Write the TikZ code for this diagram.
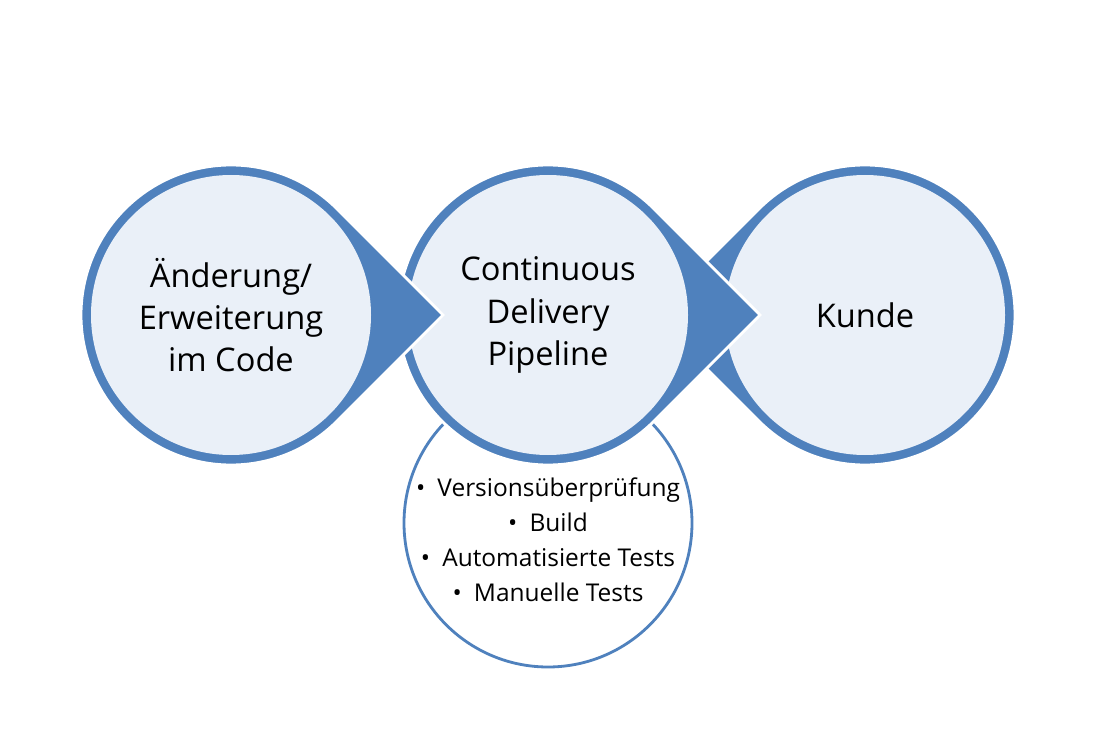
\documentclass[tikz,border=0pt]{standalone}
\usepackage{fontspec}
\setmainfont{Open Sans}
\usepackage{tikz}
\usetikzlibrary{positioning}
\usetikzlibrary{calc}
\definecolor{rand}{HTML}{4F81BD}
\definecolor{innen}{HTML}{EAF0F8}
\tikzstyle{kreis}=[circle,fill=innen,minimum size=7cm,inner sep=0pt,align=center,font=\fontsize{23.2}{30}\selectfont]
\tikzstyle{tropfen}=[fill=rand,draw=white,line width=2pt,line join=miter]
\tikzstyle{liste}=[circle,draw=rand,line width=2pt,fill=white,minimum size=7.2cm,inner sep=0pt]
\tikzstyle{punkte}=[align=center,font=\fontsize{17.4}{25}\selectfont]
\newcommand{\pkt}{•\enspace}
% Tropfen mit Spitze in Richtung #3, dann der helle Kreis darauf
\newcommand{\stufe}[4]{%
  \filldraw[tropfen] ($(#1)+(#3:5.3)$) -- ($(#1)+(#3+45:3.75)$) arc[start angle=#3+45,end angle=#3+315,radius=3.75cm] -- cycle;
  \node[kreis] (#2) at (#1) {#4};
}

\begin{document}
\begin{tikzpicture}
	\useasboundingbox (0,0) rectangle (27.45,18.55);
	\coordinate (aenderungM) at (5.775,10.675);
	\coordinate[right=7.925cm of aenderungM] (pipelineM);
	\coordinate[right=7.925cm of pipelineM] (kundeM);
	
	\node[liste] (schritte) at ($(pipelineM)+(0,-5.2)$) {};
	\node[punkte] (schritteText) at ([yshift=-0.42cm]schritte.center) {\pkt Versionsüberprüfung\\\pkt Build\\\pkt Automatisierte Tests\\\pkt Manuelle Tests};
	
	\stufe{kundeM}{kunde}{180}{Kunde}
	\stufe{pipelineM}{pipeline}{0}{Continuous\\Delivery\\Pipeline}
	\stufe{aenderungM}{aenderung}{0}{Änderung/\\Erweiterung\\im Code}
\end{tikzpicture}
\end{document}
